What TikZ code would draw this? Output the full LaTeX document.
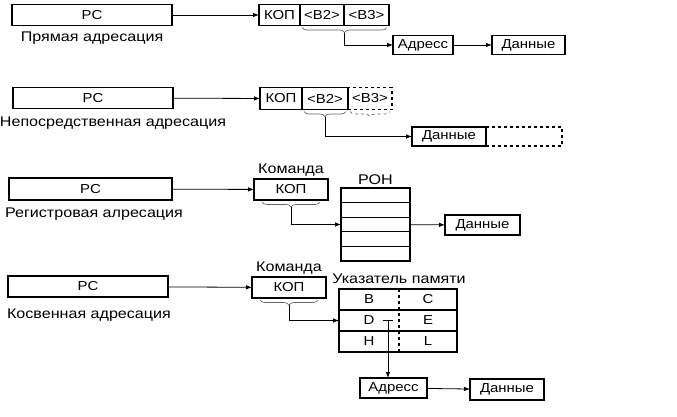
\documentclass[tikz,border=0pt]{standalone}
\usepackage{fontspec}
\setmainfont{Liberation Sans}[FakeStretch=1.15]
\usetikzlibrary{positioning,arrows.meta,decorations.pathreplacing,calc}

\begin{document}
\begin{tikzpicture}
	[x=1pt,y=-1pt,
	every node/.style={inner sep=0pt,outer sep=0pt,font=\fontsize{13}{15}\selectfont},
	box/.style={draw,line width=1.3pt,minimum height=21pt},
	lbltxt/.style={font=\fontsize{14}{16}\selectfont},
	arr/.style={-{Latex[length=6pt,width=4.5pt]},line width=0.8pt},
	lnk/.style={line width=0.8pt},
	brc/.style={decorate,decoration={brace,mirror,amplitude=5pt},black!60,line width=0.7pt}]
	\useasboundingbox (0,0) rectangle (677,416);

	\node[box,minimum width=160pt] (pc1) at (92,15) {PC};
	\node[lbltxt] (lbl1) at (92,38) {Прямая адресация};
	\node[box,minimum width=41pt] (kop1) at (279.5,15) {КОП};
	\node[box,minimum width=44pt,right=0pt of kop1] (b21) {<B2>};
	\node[box,minimum width=45pt,right=0pt of b21] (b31) {<B3>};
	\node[box,minimum width=60pt,minimum height=19pt] (adr1) at (423,45) {Адресс};
	\node[box,minimum width=73pt,minimum height=19pt] (dat1) at (528.5,45) {Данные};
	\draw[brc] ($(b21.south west)+(2,2)$) -- ($(b31.south east)+(-2,2)$);
	\coordinate (t1) at ($(b21.south west)!0.5!(b31.south east)+(0,7)$);
	\draw[arr] (pc1) -- (kop1);
	\draw[arr] (t1) |- (adr1);
	\draw[arr] (adr1) -- (dat1);

	\node[box,minimum width=160pt] (pc2) at (93,98) {PC};
	\node[lbltxt] (lbl2) at (113,123) {Непосредственная адресация};
	\node[box,minimum width=42pt,minimum height=22pt] (kop2) at (281,98.5) {КОП};
	\node[box,minimum width=46pt,minimum height=22pt,right=0pt of kop2] (b22) {<B2>};
	\node[box,dashed,minimum width=44pt,minimum height=22pt,right=0pt of b22] (b32) {<B3>};
	\node[box,minimum width=74pt,minimum height=19pt] (dat2) at (449,136.5) {Данные};
	\node[box,dashed,minimum width=76pt,minimum height=19pt,right=0pt of dat2] (ext2) {};
	\draw[brc] ($(b22.south west)+(2,2)$) -- ($(b22.south east)+(-2,2)$);
	\draw[brc,dashed] ($(b32.south west)+(2,2)$) -- ($(b32.south east)+(-2,2)$);
	\coordinate (t2) at ($(b22.south west)!0.5!(b22.south east)+(0,7)$);
	\draw[arr] (pc2) -- (kop2);
	\draw[arr] (t2) |- (dat2);

	\node[box,minimum width=163pt,minimum height=22pt] (pc3) at (90.5,189) {PC};
	\node[lbltxt] (lbl3) at (94,214) {Регистровая алресация};
	\node[box,minimum width=74pt] (kop3) at (291,189.5) {КОП};
	\node[lbltxt,above=3pt of kop3] (cmd3) {Команда};
	\foreach \i in {0,...,4}
		\node[box,minimum width=69pt,minimum height=14.6pt] (ron\i) at (375.5,{195.3+14.6*\i}) {};
	\node[lbltxt,above=3pt of ron0] (ronlbl) {РОН};
	\node[box,minimum width=75pt,minimum height=20pt] (dat3) at (482.5,225) {Данные};
	\draw[brc] ($(kop3.south west)+(8,2)$) -- ($(kop3.south east)+(-8,2)$);
	\coordinate (t3) at ($(kop3.south)+(0,7)$);
	\draw[arr] (pc3) -- (kop3);
	\draw[arr] (t3) |- (ron2);
	\draw[arr] (ron2) -- (dat3);

	\node[box,minimum width=160pt] (pc4) at (88,286.5) {PC};
	\node[lbltxt] (lbl4) at (89,315) {Косвенная адресация};
	\node[box,minimum width=74pt] (kop4) at (289,287.5) {КОП};
	\node[lbltxt,above=3pt of kop4] (cmd4) {Команда};
	\node[minimum width=60pt,minimum height=21pt] (B) at (369,299.5) {B};
	\node[minimum width=58pt,minimum height=21pt,right=0pt of B] (C) {C};
	\node[minimum width=60pt,minimum height=21pt,below=0pt of B] (D) {D};
	\node[minimum width=58pt,minimum height=21pt,right=0pt of D] (E) {E};
	\node[minimum width=60pt,minimum height=21pt,below=0pt of D] (H) {H};
	\node[minimum width=58pt,minimum height=21pt,right=0pt of H] (L) {L};
	\node[lbltxt,above=5pt of B.north east] (ptr) {Указатель памяти};
	\draw[line width=1.3pt] (B.north west) rectangle (L.south east);
	\draw[line width=1.3pt] (D.north west) -- (E.north east) (H.north west) -- (L.north east);
	\draw[line width=1.3pt,dashed] (B.north east) -- (H.south east);
	\node[box,minimum width=67pt,minimum height=20pt] (adr4) at (393.5,388) {Адресс};
	\node[box,minimum width=74pt] (dat4) at (507,389.5) {Данные};
	\draw[brc] ($(kop4.south west)+(8,2)$) -- ($(kop4.south east)+(-8,2)$);
	\coordinate (t4) at ($(kop4.south)+(0,7)$);
	\coordinate (dt) at ($(D.center)+(19,0)$);
	\draw[arr] (pc4) -- (kop4);
	\draw[arr] (t4) |- (D);
	\draw[lnk] ($(dt)+(-5,0)$) -- ($(dt)+(5,0)$);
	\draw[arr] (dt) -- (dt |- adr4.north);
	\draw[arr] (adr4) -- (dat4);
\end{tikzpicture}
\end{document}
